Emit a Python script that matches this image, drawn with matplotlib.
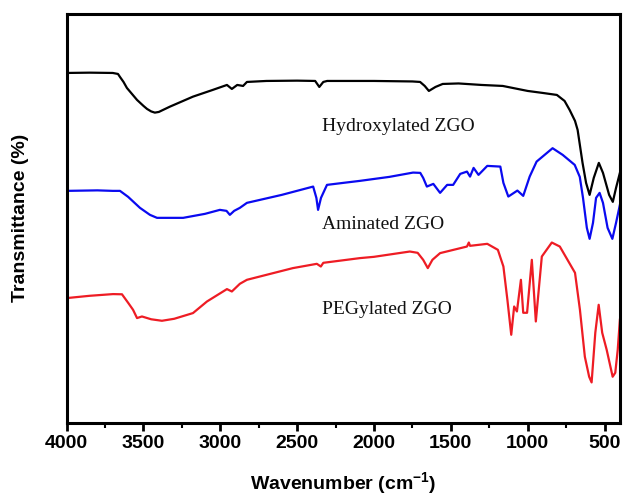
import numpy as np
import matplotlib
matplotlib.use('Agg')
import matplotlib.pyplot as plt
from matplotlib.ticker import MultipleLocator

# =========================
# Данные ИК-спектров (отн. ед.)
# =========================
wn_hydroxy = [4000, 3850, 3700, 3666, 3653, 3630, 3608, 3575, 3542, 3500, 3477, 3450,
              3426, 3400, 3373, 3328, 3250, 3178, 3050,
              2957, 2925, 2890, 2852, 2827, 2700, 2500, 2383, 2356, 2330, 2305, 2000,
              1750, 1700, 1670, 1643, 1600, 1553, 1450, 1300, 1162, 1000, 902, 810,
              760, 727, 692, 675, 643, 620, 597, 570, 537, 510, 470, 446, 425, 400]
t_hydroxy = [350, 350.3, 350, 349, 346, 341, 335, 329, 323, 317, 314, 311.5,
             310.3, 311, 313, 316.3, 321.5, 326.3, 333,
             338, 334, 338, 337, 341, 342, 342.3, 342, 336, 341, 342, 342,
             341.5, 341, 337, 332, 336, 339, 339.5, 338, 337, 332, 330, 328,
             322, 313, 302, 293, 260, 240, 228, 245, 260, 250, 228, 221, 235, 250]

wn_amino = [4000, 3800, 3700, 3653, 3600, 3523, 3458, 3412, 3350, 3242, 3100, 3003,
            2960, 2938, 2910, 2873, 2827, 2600, 2396, 2375, 2364, 2345, 2306, 2200,
            2092, 1900, 1746, 1699, 1680, 1656, 1614, 1570, 1524, 1485, 1439, 1395,
            1375, 1352, 1320, 1263, 1178, 1158, 1126, 1067, 1029, 987, 942, 838,
            772, 694, 661, 640, 615, 597, 575, 555, 532, 510, 480, 449, 425, 400]
t_amino = [232, 232.5, 232, 232, 226, 215, 208, 205, 205, 205, 209, 213,
           212, 208, 212, 215, 220, 228, 236.3, 225, 213, 225, 238, 240,
           242, 246, 250.3, 250, 245, 236.3, 239, 230, 238, 238, 249, 251.3,
           246.3, 255, 248, 257, 256.3, 240, 226.3, 232.3, 227, 246.3, 261.3, 274.7,
           268, 258, 246, 225, 195, 184, 200, 225, 230, 220, 195, 184, 200, 218]

wn_peg = [4000, 3850, 3698, 3640, 3600, 3568, 3542, 3510, 3450, 3380, 3300, 3178,
          3087, 2957, 2925, 2873, 2827, 2528, 2372, 2346, 2330, 2092, 2000, 1767,
          1716, 1680, 1650, 1620, 1570, 1395, 1383, 1375, 1263, 1194, 1158, 1132,
          1107, 1088, 1070, 1044, 1029, 1004, 973, 947, 908, 843, 791, 692,
          660, 628, 600, 584, 560, 538, 515, 486, 447, 430, 414, 400]
t_peg = [124.7, 127, 128.7, 128.5, 120, 113, 104.7, 106.3, 103.5, 102, 104, 109.7,
         121.3, 133.7, 131.3, 139, 143, 154.7, 159, 156.3, 160, 164.7, 166, 171.3,
         170, 163, 154.7, 163, 169.7, 176.3, 180.3, 177, 179, 173, 156.3, 123,
         88, 116.3, 111.3, 143, 110, 110, 163, 101.3, 166.3, 180.3, 176.3, 150,
         113, 66, 46, 40.3, 90, 118, 90, 73, 46, 50, 73, 103]

sample_names = ['Hydroxylated ZGO', 'Aminated ZGO', 'PEGylated ZGO']
label_y = [296, 198, 113]
x_ticks = [4000, 3500, 3000, 2500, 2000, 1500, 1000, 500]

# =========================
# Построение графика
# =========================
plt.rcParams['mathtext.fontset'] = 'custom'
plt.rcParams['mathtext.rm'] = 'Liberation Sans'
plt.rcParams['mathtext.bf'] = 'Liberation Sans:bold'

fig = plt.figure(figsize=(6.23, 5.0), dpi=100)
ax = fig.add_axes([0.107, 0.1546, 0.888, 0.8174])

ax.plot(wn_hydroxy, t_hydroxy, color='black', linewidth=1.6)
ax.plot(wn_amino, t_amino, color='#0a0af0', linewidth=1.6)
ax.plot(wn_peg, t_peg, color='#ee1c24', linewidth=1.6)

for name, y in zip(sample_names, label_y):
    ax.text(2339, y, name, ha='left', va='center', fontsize=14,
            family='Liberation Serif', color='#111111')

ax.set_xlim(4000, 400)
ax.set_ylim(0, 409)
ax.set_xticks(x_ticks)
ax.xaxis.set_minor_locator(MultipleLocator(250))
ax.set_yticks([])

for lbl in ax.get_xticklabels():
    lbl.set_fontweight('bold')
    lbl.set_family('Liberation Sans')
ax.tick_params(axis='x', which='major', direction='out', length=6, width=2,
               labelsize=14, pad=3)
ax.tick_params(axis='x', which='minor', direction='out', length=3.5, width=1.5)

for side in ['left', 'right', 'top', 'bottom']:
    ax.spines[side].set_linewidth(2.2)

ax.set_xlabel('Wavenumber (cm$^{\\mathbf{-1}}$)', fontsize=14, fontweight='bold',
              family='Liberation Sans', labelpad=13)
ax.set_ylabel('Transmittance (%)', fontsize=14, fontweight='bold',
              family='Liberation Sans', labelpad=27)

fig.savefig('out.png', dpi=100)
